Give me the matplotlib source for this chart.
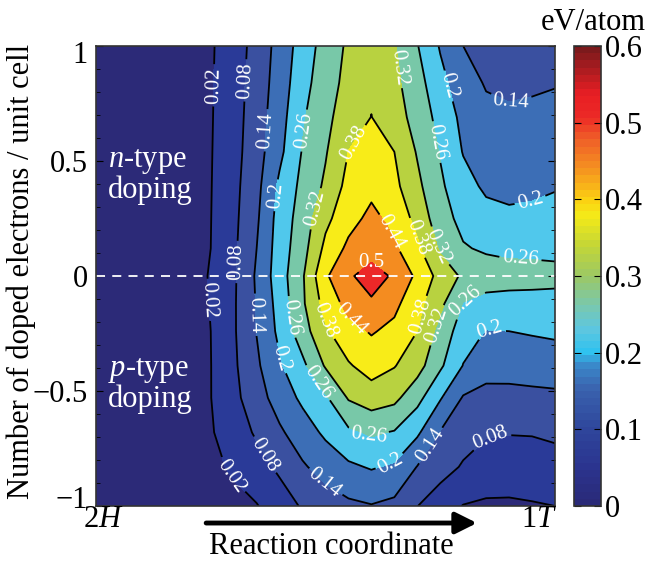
import numpy as np
import matplotlib
import matplotlib.pyplot as plt
from matplotlib.colors import LinearSegmentedColormap, Normalize
from matplotlib.cm import ScalarMappable
from matplotlib.transforms import ScaledTranslation

plt.rcParams['font.family'] = ['Liberation Serif', 'DejaVu Serif']
plt.rcParams['mathtext.fontset'] = 'custom'
plt.rcParams['mathtext.rm'] = 'Liberation Serif'
plt.rcParams['mathtext.it'] = 'Liberation Serif:italic'

# reaction coordinate (0 = 2H, 1 = 1T) and doping grid
x_coord = [0.0, 0.05, 0.1, 0.15, 0.2, 0.25, 0.3, 0.35, 0.4, 0.45, 0.5,
           0.55, 0.6, 0.65, 0.7, 0.75, 0.8, 0.85, 0.9, 0.95, 1.0]
y_doping = [1.0, 0.84, 0.69, 0.54, 0.39, 0.25, 0.12, 0.0, -0.12, -0.24,
            -0.39, -0.53, -0.68, -0.83, -1.0]

# energy (eV/atom), one row per doping value, top to bottom
energy = [
    [0, 0, 0, .002, .005, .014, .050, .102, .161, .227, .284, .330, .365, .325, .263, .195, .140, .120, .110, .115, .120],
    [0, 0, 0, .002, .005, .015, .054, .106, .168, .238, .295, .337, .370, .335, .283, .218, .165, .135, .130, .132, .137],
    [0, 0, 0, .002, .005, .016, .056, .111, .176, .253, .306, .349, .381, .345, .299, .239, .185, .155, .148, .152, .155],
    [0, 0, 0, .002, .006, .017, .059, .115, .186, .264, .315, .381, .405, .380, .315, .256, .197, .175, .167, .170, .175],
    [0, 0, 0, .003, .007, .018, .063, .123, .212, .276, .330, .400, .425, .395, .334, .270, .221, .190, .185, .188, .195],
    [0, 0, 0, .003, .008, .019, .066, .131, .224, .287, .365, .419, .455, .423, .361, .284, .243, .220, .211, .214, .224],
    [0, 0, 0, .003, .008, .020, .069, .140, .229, .297, .395, .453, .470, .450, .392, .312, .265, .252, .248, .250, .251],
    [0, 0, 0, .003, .008, .022, .071, .148, .233, .313, .432, .490, .530, .490, .428, .359, .310, .290, .280, .275, .270],
    [0, 0, 0, .003, .008, .021, .073, .144, .223, .311, .402, .460, .490, .455, .399, .334, .257, .240, .242, .245, .248],
    [0, 0, 0, .003, .008, .020, .073, .142, .214, .294, .371, .420, .445, .425, .380, .300, .228, .198, .200, .205, .210],
    [0, 0, 0, .003, .008, .019, .070, .130, .193, .246, .326, .374, .405, .383, .344, .270, .198, .160, .163, .167, .170],
    [0, 0, 0, .003, .008, .019, .064, .115, .166, .212, .251, .325, .350, .335, .279, .205, .135, .124, .122, .125, .128],
    [0, 0, 0, .003, .008, .015, .049, .088, .131, .171, .211, .249, .268, .256, .210, .137, .105, .087, .083, .084, .091],
    [0, 0, 0, .002, .005, .010, .026, .057, .091, .133, .163, .190, .205, .192, .138, .105, .074, .048, .045, .049, .056],
    [0, 0, 0, 0, .002, .004, .008, .017, .051, .086, .110, .128, .137, .125, .081, .045, .018, .013, .013, .016, .020],
]

levels = [0.02, 0.08, 0.14, 0.2, 0.26, 0.32, 0.38, 0.44, 0.5, 0.56]
cbar_ticks = [0, 0.1, 0.2, 0.3, 0.4, 0.5, 0.6]
y_ticks = [-1, -0.5, 0, 0.5, 1]
y_ticklabels = ['\u22121', '\u22120.5', '0', '0.5', '1']

band_colors = ['#2c2a78', '#2a3a98', '#3a50a0', '#3c6eb6', '#50c8ec',
               '#78c8a8', '#b8d240', '#f8ec18', '#f48c20', '#ec2828']

cmap = LinearSegmentedColormap.from_list('ev', [
    (0.00, '#2a2a78'), (0.05 / .6, '#2b3590'), (0.10 / .6, '#2f479c'),
    (0.15 / .6, '#3a62ae'), (0.18 / .6, '#3a86c8'), (0.20 / .6, '#30c2ef'),
    (0.23 / .6, '#5ec6df'), (0.26 / .6, '#78c8b0'), (0.30 / .6, '#9cc864'),
    (0.34 / .6, '#c4d636'), (0.38 / .6, '#f4ea18'), (0.40 / .6, '#fbd212'),
    (0.44 / .6, '#f59420'), (0.48 / .6, '#f06028'), (0.51 / .6, '#ec2a26'),
    (0.54 / .6, '#e81e24'), (1.0, '#7c1a1c')], N=64)

X, Y = np.meshgrid(x_coord, y_doping)
Z = np.array(energy)

fig = plt.figure(figsize=(6.6, 5.65), dpi=100)
ax = fig.add_axes([96 / 660, 59 / 565, 459 / 660, 460 / 565])

ax.contourf(X, Y, Z, levels=[-1] + levels, colors=band_colors)
cs = ax.contour(X, Y, Z, levels=levels[:-1], colors='k', linewidths=1.3)

label_pos = [(0.259, 0.829), (0.331, 0.85), (0.375, 0.633), (0.451, 0.633),
             (0.392, 0.351), (0.466, 0.299), (0.553, 0.59), (0.656, 0.907),
             (0.756, 0.82), (0.728, 0.577), (0.908, 0.72), (0.946, 0.33),
             (0.924, 0.039), (0.597, 0.069), (0.641, 0.187), (0.684, 0.156),
             (0.743, 0.126), (0.307, 0.061), (0.244, -0.104), (0.34, -0.169),
             (0.412, -0.182), (0.484, -0.2), (0.542, -0.226), (0.695, -0.169),
             (0.723, -0.2), (0.804, -0.104), (0.858, -0.247), (0.39, -0.364),
             (0.484, -0.464), (0.59, -0.711), (0.645, -0.833), (0.495, -0.907),
             (0.368, -0.777), (0.309, -0.85), (0.743, -0.755), (0.858, -0.69)]
ax.clabel(cs, inline=True, fmt='%g', fontsize=15, colors='w',
          manual=label_pos, inline_spacing=3)

ax.axhline(0, color='w', ls='--', lw=1.3, dashes=(5, 4))

ax.set_xlim(0, 1)
ax.set_ylim(-1, 1)
ax.set_xticks([])
ax.set_yticks(y_ticks)
ax.set_yticklabels(y_ticklabels, fontsize=22)
ax.set_yticks(np.arange(-1, 1.01, 0.1), minor=True)
ax.tick_params(axis='y', which='both', direction='in', right=True, pad=6)
ax.tick_params(axis='y', which='major', length=5)
ax.tick_params(axis='y', which='minor', length=3)
for s in ax.spines.values():
    s.set_linewidth(1.2)
    s.set_color('#333333')
ax.set_ylabel('Number of doped electrons / unit cell', fontsize=22)
ax.yaxis.set_label_coords(-0.131, 0.51)

# end labels sit a little inside the axis range, as in the original
tl = ax.get_yticklabels()
tl[0].set_transform(tl[0].get_transform() + ScaledTranslation(0, 0.09, fig.dpi_scale_trans))
tl[-1].set_transform(tl[-1].get_transform() + ScaledTranslation(0, -0.06, fig.dpi_scale_trans))

ax.text(0.026, 0.717, '$n$-type\ndoping', transform=ax.transAxes, color='w',
        fontsize=22, va='center', ha='left', linespacing=1.0)
ax.text(0.026, 0.263, '$p$-type\ndoping', transform=ax.transAxes, color='w',
        fontsize=22, va='center', ha='left', linespacing=1.0)

ax.text(0.015, -0.03, '2$H$', transform=ax.transAxes, fontsize=22,
        ha='center', va='center')
ax.text(0.965, -0.03, '1$T$', transform=ax.transAxes, fontsize=22,
        ha='center', va='center')
ax.annotate('', xy=(0.83, -0.037), xytext=(0.24, -0.037),
            xycoords='axes fraction', annotation_clip=False,
            arrowprops=dict(arrowstyle='-|>', lw=3.5, color='k',
                            mutation_scale=32, shrinkA=0, shrinkB=0))
ax.text(0.513, -0.088, 'Reaction coordinate', transform=ax.transAxes,
        fontsize=22, ha='center', va='center')

cax = fig.add_axes([574 / 660, 59 / 565, 27 / 660, 460 / 565])
cb = fig.colorbar(ScalarMappable(norm=Normalize(0, 0.6), cmap=cmap), cax=cax)
cb.set_ticks(cbar_ticks)
cb.set_ticklabels(['%g' % t for t in cbar_ticks])
cax.tick_params(direction='in', left=True, right=True, length=5,
                labelsize=22, pad=3)
cb.outline.set_linewidth(1.2)
cb.outline.set_edgecolor('#333333')
fig.text(593 / 660, 1 - 22 / 565, 'eV/atom', fontsize=22, ha='center',
         va='center')

fig.savefig('out.png', dpi=100)
